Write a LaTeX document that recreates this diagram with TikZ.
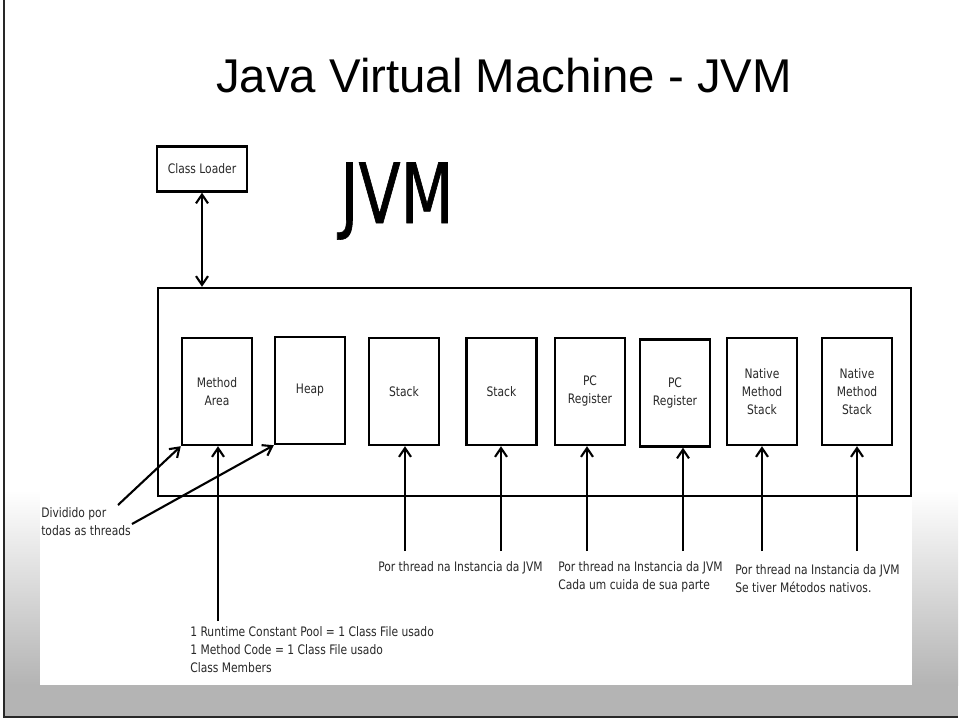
\documentclass[tikz,border=0pt]{standalone}
\usepackage{fontspec}
\usepackage{tikz}
\usetikzlibrary{arrows.meta, positioning, calc}
\newfontfamily\titlefont{Liberation Sans}
\newfontfamily\lblfont[FakeStretch=0.82]{DejaVu Sans}
\newfontfamily\jvmfont[FakeStretch=0.74, FakeBold=0.7]{DejaVu Sans}
\definecolor{cFrame}{RGB}{180,180,180}
\definecolor{cEdge}{RGB}{40,40,40}
\definecolor{cText}{RGB}{40,40,40}
\tikzset{
	membox/.style   ={rectangle, draw=black, line width=1.7pt, minimum width=1.75cm, minimum height=2.675cm, align=center, inner sep=0pt, font=\lblfont\fontsize{9.3}{12.8}\selectfont, text=cText},
	loaderbox/.style={rectangle, draw=black, line width=1.7pt, minimum width=2.25cm, minimum height=1.125cm, align=center, inner sep=0pt, font=\lblfont\fontsize{9.3}{12.8}\selectfont, text=cText},
	jvmbox/.style   ={rectangle, draw=black, line width=1.7pt, minimum width=18.825cm, minimum height=5.2cm, inner sep=0pt},
	note/.style     ={anchor=west, align=left, inner sep=0pt, font=\lblfont\fontsize{9.3}{12.8}\selectfont, text=cText},
	lnk/.style      ={-{Straight Barb[length=2.2mm,width=3mm]}, line width=1.5pt},
	dlnk/.style     ={{Straight Barb[length=2.2mm,width=3mm]}-{Straight Barb[length=2.2mm,width=3mm]}, line width=1.5pt},
}

\begin{document}
\begin{tikzpicture}[x=0.025cm, y=-0.025cm]
	\useasboundingbox (0,0) rectangle (960,723);
	% slide frame
	\shade[top color=white, bottom color=cFrame] (4,490) rectangle (958,685);
	\fill[cFrame] (4,685) rectangle (958,717);
	\fill[white] (40,130) rectangle (912,685);
	\draw[cEdge, line width=1.4pt] (4,0) -- (4,717) -- (958,717);

	\node[anchor=base, font=\titlefont\fontsize{33.7}{40}\selectfont] (title) at (504,92) {Java Virtual Machine - JVM};
	\node[anchor=base, inner sep=0pt, font=\jvmfont\fontsize{59}{70}\selectfont] (jvmlbl) at (397,223) {JVM};

	\node[loaderbox] (loader) at (202,169) {Class Loader};
	\node[jvmbox] (jvm) at (534.5,392) {};

	% memory areas
	\node[membox] (marea)  at (217,391.5) {Method\\Area};
	\node[membox] (heap)   at (310,390.5) {Heap};
	\node[membox] (stackA) at (404,391.5) {Stack};
	\node[membox] (stackB) at (501.5,391.5) {Stack};
	\node[membox] (pcA)    at (590,391.5) {PC\\Register};
	\node[membox] (pcB)    at (675,393) {PC\\Register};
	\node[membox] (nmsA)   at (762,391.5) {Native\\Method\\Stack};
	\node[membox] (nmsB)   at (857,391.5) {Native\\Method\\Stack};

	\draw[dlnk] (loader.south) -- (loader.south |- jvm.north);

	% notes
	\node[note] (shared) at (41,521.5) {Dividido por\\todas as threads};
	\node[note] (pool)   at (190,650) {1 Runtime Constant Pool = 1 Class File usado\\1 Method Code = 1 Class File usado\\Class Members};
	\node[note] (thrS)   at (378,567.5) {Por thread na Instancia da JVM};
	\node[note] (thrP)   at (558,576.5) {Por thread na Instancia da JVM\\Cada um cuida de sua parte};
	\node[note] (thrN)   at (735,579) {Por thread na Instancia da JVM\\Se tiver Métodos nativos.};

	\coordinate (dA) at (118,505);
	\coordinate (dB) at (132,524);
	\coordinate (pA) at (218,621);
	\coordinate (sA) at (405,551);
	\coordinate (sB) at (501,551);
	\coordinate (rA) at (587,551);
	\coordinate (rB) at (683,551);
	\coordinate (nA) at (762,551);
	\coordinate (nB) at (857,551);

	\draw[lnk] (dA) -- (marea.south west);
	\draw[lnk] (dB) -- (heap.south west);
	\draw[lnk] (pA) -- (pA |- marea.south);
	\draw[lnk] (sA) -- (sA |- stackA.south);
	\draw[lnk] (sB) -- (sB |- stackB.south);
	\draw[lnk] (rA) -- (rA |- pcA.south);
	\draw[lnk] (rB) -- (rB |- pcB.south);
	\draw[lnk] (nA) -- (nA |- nmsA.south);
	\draw[lnk] (nB) -- (nB |- nmsB.south);
\end{tikzpicture}
\end{document}
